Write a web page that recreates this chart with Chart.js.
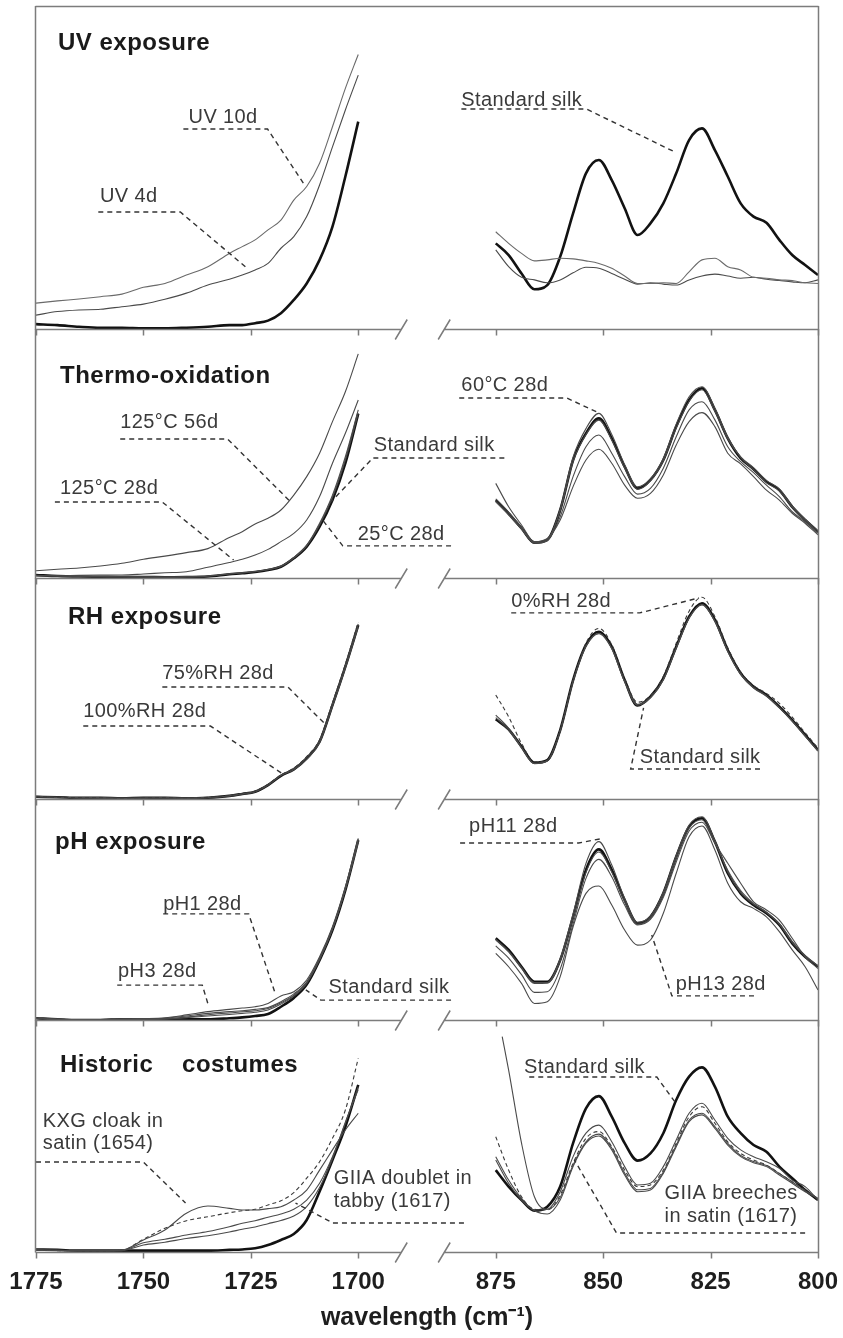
<!DOCTYPE html>
<html>
<head>
<meta charset="utf-8">
<script src="https://cdn.jsdelivr.net/npm/chart.js@4.4.1/dist/chart.umd.min.js"></script>
<style>
  html, body { margin: 0; padding: 0; background: #ffffff; }
  #wrap { position: relative; width: 843px; height: 1338px; }
  #wrap canvas { position: absolute; left: 0; top: 0; }
</style>
</head>
<body>
<div id="wrap">
  <canvas id="p0" width="843" height="1338"></canvas>
  <canvas id="p1" width="843" height="1338"></canvas>
  <canvas id="p2" width="843" height="1338"></canvas>
  <canvas id="p3" width="843" height="1338"></canvas>
  <canvas id="p4" width="843" height="1338"></canvas>
</div>
<script>
// ---- wavenumber grids (cm-1) ----
const wnL = [1775,1770,1765,1760,1755,1750,1745,1740,1735,1730,1727,1724,1721,1718,1715,1712,1709,1706,1703,1700];
const wnR = [875,872,869,866,863,860,857,854,851,848,845,842,839,836,833,830,827,824,821,818,815,812,809,806,803,800];
const wnRSteep = [873.5,872,869,866,863,860,857,854,851,848,845,842,839,836,833,830,827,824,821,818,815,812,809,806,803,800];

// ---- axis ticks ----
const tickWn = [1775,1750,1725,1700,875,850,825,800];
const tickLabels = ['1775','1750','1725','1700','875','850','825','800'];

// ---- UV exposure ----
const uvSilkL = [1.5,1.2,0.7,0.4,0.4,0.2,0.2,0.4,0.7,1.2,1.2,1.8,2.6,4.9,9.0,14.1,21.4,31.7,47.2,64.2];
const uv4dL   = [4.3,5.4,5.9,6.1,6.9,7.7,9.2,11.1,13.6,15.4,16.7,18.3,20.3,25.0,28.6,34.8,44.6,56.4,67.8,78.6];
const uv10dL  = [8.0,8.7,9.3,10.0,10.8,12.9,14.1,16.7,19.3,23.4,25.5,27.6,30.7,33.7,39.9,44.1,51.3,62.6,74.5,85.0];
const uvSilkR = [26.5,22.9,17.2,12.3,13.6,22.4,35.8,48.2,52.3,46.1,37.4,29.1,32.7,38.9,48.2,58.5,62.1,55.4,47.2,38.9,34.8,32.9,27.6,22.9,19.8,16.7];
const uv10dR  = [30.1,26.5,23.4,21.1,21.4,21.9,21.7,21.1,20.3,18.8,16.4,14.1,14.1,14.3,14.1,17.7,21.4,21.9,19.3,18.3,16.0,15.7,15.2,15.0,14.3,14.1];
const uv4dR   = [24.5,19.3,16.0,15.2,14.3,15.2,17.4,19.1,18.8,17.2,15.4,13.9,14.3,13.9,13.6,15.2,16.4,17.0,16.4,15.7,16.0,15.4,15.0,14.6,14.3,15.2];

// ---- Thermo-oxidation ----
const thSilkL  = [1.2,0.8,0.6,0.5,0.4,0.4,0.3,0.4,0.6,1.5,1.9,2.4,3.2,4.5,7.9,12.6,20.6,31.3,46.1,66.0];
const th25L    = [1.0,0.8,0.6,0.5,0.5,0.4,0.4,0.5,0.7,1.6,2.0,2.6,3.4,4.8,8.3,13.2,22.0,33.3,48.7,67.5];
const th60L    = [1.1,0.9,0.7,0.6,0.5,0.5,0.4,0.5,0.8,1.7,2.1,2.5,3.3,4.6,8.0,12.9,21.3,32.4,47.4,66.1];
const th125aL  = [0.8,0.8,1.1,1.2,1.2,1.6,2.1,2.5,4.3,6.2,7.5,9.2,11.5,14.6,17.9,23.3,32.7,46.1,58.1,71.5];
const th125bL  = [2.9,3.5,4.0,4.8,5.9,7.5,8.8,10.2,11.8,16.3,18.6,21.7,24.0,27.3,33.3,40.7,50.1,62.8,74.8,90.0];
const thSilkR  = [31.3,26.0,20.0,14.2,15.3,27.3,47.4,58.1,64.1,56.1,44.7,36.0,39.4,47.4,60.8,71.5,76.2,67.5,56.1,48.1,43.7,38.7,35.3,28.6,23.3,18.6];
const th60R    = [31.8,26.4,20.3,14.0,15.0,27.8,48.5,60.0,66.1,57.6,45.5,36.6,39.8,48.0,61.8,72.8,76.8,68.2,56.6,48.4,43.5,38.3,35.0,28.4,23.0,18.2];
const th25R    = [30.8,25.6,19.7,14.5,15.6,27.0,46.8,57.6,63.4,55.4,44.2,35.6,39.0,47.0,60.2,71.0,75.6,67.0,55.8,48.6,44.3,39.2,35.8,29.0,23.6,18.9];
const th125aR  = [30.6,25.3,19.6,14.2,15.3,24.6,40.7,52.7,57.4,50.1,40.7,33.7,36.0,44.1,56.7,67.5,70.8,63.5,52.7,46.7,42.3,37.3,32.7,26.6,22.6,17.9];
const th125bR  = [38.0,28.6,21.3,14.6,15.9,23.3,36.7,47.4,51.7,46.1,37.3,32.0,34.0,41.4,53.4,62.8,66.4,60.8,50.1,45.8,40.7,35.3,31.3,26.0,22.0,17.3];

// ---- RH exposure ----
const rhSilkL = [1.0,0.8,0.5,0.5,0.3,0.5,0.5,0.3,0.6,1.4,2.3,3.3,6.3,10.5,13.4,18.4,25.9,42.5,59.9,78.7];
const rh75L   = [1.2,0.9,0.6,0.6,0.4,0.5,0.6,0.4,0.7,1.5,2.4,3.5,6.5,10.8,13.8,18.9,26.5,43.2,60.5,79.2];
const rh100L  = [0.9,0.7,0.5,0.4,0.3,0.4,0.5,0.4,0.6,1.3,2.2,3.2,6.2,10.6,13.2,18.0,25.5,41.9,59.2,78.0];
const rh0L    = [1.1,0.8,0.6,0.5,0.4,0.6,0.6,0.5,0.8,1.6,2.5,3.6,6.6,10.9,14.0,19.2,26.8,43.5,61.0,80.0];
const rhSilkR = [36.1,31.5,23.7,16.4,17.6,31.2,53.8,69.7,75.7,68.9,53.8,42.3,46.3,54.6,68.9,82.5,88.6,81.0,67.4,56.9,50.8,47.1,41.8,35.7,29.0,22.2];
const rh0R    = [47.1,37.2,25.2,16.8,17.4,30.8,53.5,70.5,77.2,69.8,54.5,43.8,46.8,55.5,70.5,85.0,91.3,82.5,68.5,57.5,51.4,47.8,43.3,37.0,30.0,23.0];
const rh75R   = [38.0,32.0,23.5,16.2,17.4,31.0,53.5,69.2,75.0,68.3,53.3,42.8,46.0,54.2,68.5,82.0,88.0,80.6,67.0,56.6,50.5,46.8,41.5,35.4,28.7,21.9];
const rh100R  = [36.8,31.2,23.2,16.0,17.2,30.8,53.2,69.0,74.8,68.0,53.0,42.5,45.8,54.0,68.2,81.8,87.8,80.4,66.8,56.4,50.2,46.5,41.2,35.2,28.4,21.6];

// ---- pH exposure ----
const phSilkL = [0.8,0.3,0.0,0.0,0.3,0.3,0.3,0.3,0.3,0.8,1.2,1.8,2.7,6.0,10.0,16.0,27.1,40.7,58.8,81.4];
const ph1L    = [0.8,0.3,0.2,0.2,0.4,0.6,1.0,2.3,3.8,4.8,5.4,6.0,7.5,10.9,12.8,18.1,28.6,42.2,60.3,82.2];
const ph3L    = [0.8,0.3,0.2,0.2,0.4,0.5,0.8,1.8,3.0,3.8,4.2,4.8,5.7,8.3,11.8,17.2,27.8,41.5,59.5,81.8];
const ph11L   = [0.9,0.4,0.1,0.1,0.3,0.4,0.5,1.0,1.8,2.5,3.0,3.5,4.5,7.2,10.8,16.6,27.5,41.0,59.2,81.0];
const ph13L   = [0.8,0.3,0.1,0.1,0.3,0.4,0.6,1.3,2.4,3.2,3.7,4.2,5.2,7.8,11.2,17.0,27.3,41.2,59.0,80.6];
const phSilkR = [37.0,31.7,24.1,17.3,17.3,27.1,46.7,67.9,77.2,67.9,54.3,43.8,46.7,57.3,73.9,87.5,91.3,80.7,66.4,57.3,52.0,48.3,43.0,34.7,28.6,24.1];
const ph11R   = [36.5,31.2,23.8,17.0,17.0,27.8,48.0,70.9,80.7,70.1,55.0,44.2,47.0,57.8,74.5,88.2,92.0,81.2,66.8,57.6,52.3,48.6,43.3,35.0,28.9,24.4];
const ph1R    = [33.5,28.0,20.5,12.5,12.8,23.0,43.5,64.1,72.7,64.8,52.0,43.0,45.5,55.5,71.5,85.5,89.5,80.0,70.9,61.9,53.5,49.8,45.2,37.0,28.6,23.3];
const ph3R    = [36.2,30.8,23.3,16.5,16.6,26.6,46.0,66.8,76.0,67.0,53.6,43.4,46.2,56.8,73.2,86.8,90.6,80.2,67.8,58.6,52.8,48.8,43.6,35.6,29.2,24.6];
const ph13R   = [30.2,24.1,16.6,7.5,8.3,19.6,42.2,57.3,60.6,52.0,40.7,33.9,36.2,48.3,66.4,82.9,87.8,76.9,61.9,53.5,50.5,46.7,40.0,31.7,24.1,13.6];

// ---- Historic costumes ----
const hcSilkL     = [1.1,0.9,0.6,0.6,0.6,0.6,0.6,0.6,0.6,0.9,1.1,1.6,3.0,5.2,7.8,13.8,26.1,39.7,54.0,72.0];
const hcKxgL      = [0.8,0.7,0.6,0.6,0.8,5.2,9.5,16.7,19.8,18.8,18.1,18.1,18.7,19.5,22.4,26.7,35.3,44.0,52.6,59.8];
const hcDoubletL  = [0.7,0.6,0.5,0.5,0.8,5.5,10.2,13.5,15.2,16.9,17.8,18.4,20.3,22.1,25.6,31.8,38.9,49.0,61.2,83.5];
const hcBreechesL = [0.9,0.7,0.6,0.6,0.7,4.0,5.5,7.3,8.8,10.9,12.4,13.5,15.0,16.4,18.4,22.4,29.6,41.1,55.5,71.3];
const hcBreeches2L= [0.9,0.7,0.6,0.6,0.6,3.0,4.2,5.8,7.0,8.6,9.8,10.8,12.2,13.6,15.5,19.6,27.8,40.2,56.0,70.0];
const hcSilkR     = [35.3,28.2,22.4,17.8,19.5,28.2,46.9,61.9,67.2,58.3,46.9,39.4,42.5,51.2,65.5,75.6,79.6,71.3,58.3,51.2,46.1,43.2,36.8,31.8,26.7,22.4];
const hcKxgR      = [92.8,78.4,46.9,23.8,18.4,23.5,37.5,47.5,50.8,44.8,34.0,26.8,27.4,34.5,46.0,56.8,59.8,54.0,46.8,41.6,39.0,37.3,33.8,30.2,26.4,23.0];
const hcDoubletR  = [49.7,35.3,23.8,18.4,18.1,24.6,38.2,49.0,51.9,45.4,35.3,28.2,28.9,35.3,46.9,58.3,62.6,55.5,47.5,42.5,39.7,37.5,33.9,30.3,26.7,23.1];
const hcBreechesR = [41.1,31.0,23.1,18.1,18.4,26.0,41.1,51.2,54.7,47.5,36.8,28.9,29.6,36.8,48.3,59.8,64.1,56.9,49.0,44.0,41.1,38.9,36.1,31.0,28.2,22.4];
const hcBreeches2R= [39.7,29.6,22.4,17.8,16.4,22.4,36.8,46.9,50.0,44.0,33.2,26.0,26.7,33.9,45.4,56.2,59.1,53.3,46.1,41.1,38.5,36.8,33.2,29.6,26.0,23.1];

// ---- broken x axis: both spectral windows share one linear scale ----
const GAP = 32;           // scale units left blank between the two windows
const XMAX = 182;
const vx = w => (w > 1000 ? 1775 - w : 75 + GAP + 875 - w);
const breakWn = [1690, 887];  // where the axis line is cut

const SANS = '"Liberation Sans", Arial, Helvetica, sans-serif';

const STYLE = {
  silk:   { borderColor: '#121212', borderWidth: 2.6 },
  thin:   { borderColor: '#4a4a4a', borderWidth: 1.1 },
  grey:   { borderColor: '#6a6a6a', borderWidth: 1.1 },
  dashed: { borderColor: '#3a3a3a', borderWidth: 1.1, borderDash: [4, 3] }
};

function curve(wn, vals, style) {
  return Object.assign({
    data: wn.map((w, i) => ({ x: vx(w), y: vals[i] })),
    pointRadius: 0,
    fill: false,
    cubicInterpolationMode: 'monotone'
  }, STYLE[style]);
}

const panels = [
  {
    top: 6, bottom: 329, title: 'UV exposure', titleAt: [22, 44],
    curves: [
      [wnL, uv10dL, 'grey'], [wnL, uv4dL, 'thin'], [wnR, uv10dR, 'grey'], [wnR, uv4dR, 'thin'],
      [wnL, uvSilkL, 'silk'], [wnR, uvSilkR, 'silk']
    ],
    notes: [
      { text: ['UV 10d'], at: [1739.5, 63.8], rule: [1740.7, 1721.1, 61.9], to: [1712.5, 44.6], from: 'end' },
      { text: ['UV 4d'], at: [1760.1, 39.3], rule: [1760.5, 1741.4, 36.2], to: [1726.2, 19.2], from: 'end' },
      { text: ['Standard silk'], at: [883.0, 69.0], rule: [883.0, 853.9, 68.1], to: [833.3, 54.8], from: 'end' }
    ]
  },
  {
    top: 329, bottom: 578, title: 'Thermo-oxidation', titleAt: [24, 54],
    curves: [
      [wnL, th125bL, 'thin'], [wnL, th125aL, 'thin'], [wnL, th25L, 'thin'], [wnL, th60L, 'thin'],
      [wnR, th125bR, 'thin'], [wnR, th125aR, 'thin'], [wnR, th25R, 'thin'], [wnR, th60R, 'thin'],
      [wnL, thSilkL, 'silk'], [wnR, thSilkR, 'silk']
    ],
    notes: [
      { text: ['125°C 56d'], at: [1755.4, 60.2], rule: [1755.4, 1730.4, 55.8], to: [1715.7, 30.5], from: 'end' },
      { text: ['125°C 28d'], at: [1769.4, 33.7], rule: [1770.6, 1745.6, 30.5], to: [1729.0, 7.2], from: 'end' },
      { text: ['Standard silk'], at: [1696.4, 51.0], rule: [1696.6, 873.0, 48.2], to: [1706.4, 30.5], from: 'start' },
      { text: ['25°C 28d'], at: [1700.1, 15.3], rule: [1703.6, 1678.4, 12.9], to: [1708.3, 23.3], from: 'start' },
      { text: ['60°C 28d'], at: [883.0, 75.1], rule: [883.5, 858.5, 72.3], to: [851.5, 66.7], from: 'end' }
    ]
  },
  {
    top: 578, bottom: 799, title: 'RH exposure', titleAt: [32, 46],
    curves: [
      [wnL, rh0L, 'dashed'], [wnL, rh75L, 'thin'], [wnL, rh100L, 'thin'],
      [wnR, rh0R, 'dashed'], [wnR, rh75R, 'thin'], [wnR, rh100R, 'thin'],
      [wnL, rhSilkL, 'silk'], [wnR, rhSilkR, 'silk']
    ],
    notes: [
      { text: ['75%RH 28d'], at: [1745.6, 54.3], rule: [1745.6, 1716.4, 50.7], to: [1707.6, 33.7], from: 'end' },
      { text: ['100%RH 28d'], at: [1764.0, 37.1], rule: [1764.0, 1734.4, 33.0], to: [1717.3, 11.0], from: 'end' },
      { text: ['0%RH 28d'], at: [871.4, 86.9], rule: [871.4, 841.5, 84.2], to: [827.7, 91.0], from: 'end' },
      { text: ['Standard silk'], at: [841.5, 16.3], rule: [843.6, 813.5, 13.6], to: [840.6, 41.2], from: 'start' }
    ]
  },
  {
    top: 799, bottom: 1020, title: 'pH exposure', titleAt: [19, 50],
    curves: [
      [wnL, ph1L, 'thin'], [wnL, ph3L, 'thin'], [wnL, ph11L, 'thin'], [wnL, ph13L, 'thin'],
      [wnR, ph1R, 'thin'], [wnR, ph3R, 'thin'], [wnR, ph11R, 'thin'], [wnR, ph13R, 'thin'],
      [wnL, phSilkL, 'silk'], [wnR, phSilkR, 'silk']
    ],
    notes: [
      { text: ['pH1 28d'], at: [1745.4, 49.8], rule: [1745.4, 1725.5, 48.0], to: [1719.2, 11.3], from: 'end' },
      { text: ['pH3 28d'], at: [1755.9, 19.5], rule: [1756.1, 1736.3, 15.8], to: [1734.9, 6.8], from: 'end' },
      { text: ['Standard silk'], at: [1706.9, 12.2], rule: [1708.7, 1678.4, 9.0], to: [1712.2, 13.6], from: 'start' },
      { text: ['pH11 28d'], at: [881.2, 85.1], rule: [883.3, 855.7, 80.1], to: [850.8, 81.9], from: 'end' },
      { text: ['pH13 28d'], at: [833.1, 13.6], rule: [834.0, 814.9, 10.9], to: [838.7, 38.5], from: 'start' }
    ]
  },
  {
    top: 1020, bottom: 1252, title: 'Historic    costumes', titleAt: [24, 52],
    curves: [
      [wnL, hcKxgL, 'thin'], [wnL, hcDoubletL, 'dashed'], [wnL, hcBreechesL, 'thin'], [wnL, hcBreeches2L, 'thin'],
      [wnRSteep, hcKxgR, 'thin'], [wnR, hcDoubletR, 'dashed'], [wnR, hcBreechesR, 'thin'], [wnR, hcBreeches2R, 'thin'],
      [wnL, hcSilkL, 'silk'], [wnR, hcSilkR, 'silk']
    ],
    notes: [
      { text: ['KXG cloak in', 'satin (1654)'], at: [1773.4, 53.9], rule: [1775.0, 1750.0, 38.8], to: [1740.2, 21.1], from: 'end' },
      { text: ['GIIA doublet in', 'tabby (1617)'], at: [1705.7, 29.3], rule: [1705.9, 1675.4, 12.5], to: [1714.6, 21.1], from: 'start' },
      { text: ['Standard silk'], at: [868.4, 77.2], rule: [867.2, 837.5, 75.4], to: [833.3, 64.7], from: 'end' },
      { text: ['GIIA breeches', 'in satin (1617)'], at: [835.7, 22.8], rule: [846.9, 803.0, 8.2], to: [856.7, 39.7], from: 'start' }
    ]
  }
];

// panel frame, broken axis, headings and leader-line labels
const framePlugin = {
  id: 'frame',
  afterDatasetsDraw(chart, args, o) {
    const { ctx, chartArea: a, scales: { x, y } } = chart;
    const px = w => x.getPixelForValue(vx(w));
    const py = v => y.getPixelForValue(v);
    ctx.save();
    ctx.textBaseline = 'alphabetic';
    ctx.textAlign = 'left';
    ctx.font = 'bold 24px ' + SANS;
    ctx.letterSpacing = '0.5px';
    ctx.fillStyle = '#1a1a1a';
    ctx.fillText(o.title, a.left + o.titleAt[0], a.top + o.titleAt[1]);

    ctx.font = '20px ' + SANS;
    ctx.letterSpacing = '0.4px';
    ctx.fillStyle = '#3a3a3a';
    ctx.strokeStyle = '#333333';
    ctx.lineWidth = 1.4;
    o.notes.forEach(n => {
      n.text.forEach((t, i) => ctx.fillText(t, px(n.at[0]), py(n.at[1]) + i * 22.5));
      const r0 = [px(n.rule[0]), py(n.rule[2])];
      const r1 = [px(n.rule[1]), py(n.rule[2])];
      const tg = [px(n.to[0]), py(n.to[1])];
      const pts = n.from === 'end' ? [r0, r1, tg] : [r1, r0, tg];
      ctx.setLineDash([5, 4]);
      ctx.beginPath();
      ctx.moveTo(pts[0][0], pts[0][1]);
      ctx.lineTo(pts[1][0], pts[1][1]);
      ctx.lineTo(pts[2][0], pts[2][1]);
      ctx.stroke();
    });
    ctx.restore();
  },
  afterDraw(chart, args, o) {
    const { ctx, chartArea: a, scales: { x } } = chart;
    const px = w => x.getPixelForValue(vx(w));
    const yb = Math.round(a.bottom) + 0.5;
    const xl = Math.round(a.left) - 0.5;
    const xr = Math.round(a.right) + 0.5;
    ctx.save();
    ctx.setLineDash([]);
    ctx.strokeStyle = '#7c7c7c';
    ctx.lineWidth = 1.5;
    ctx.beginPath();
    ctx.moveTo(xl, a.top); ctx.lineTo(xl, yb);
    ctx.moveTo(xr, a.top); ctx.lineTo(xr, yb);
    if (o.first) { ctx.moveTo(xl, Math.round(a.top) + 0.5); ctx.lineTo(xr, Math.round(a.top) + 0.5); }
    const bl = px(breakWn[0]), br = px(breakWn[1]);
    ctx.moveTo(xl, yb); ctx.lineTo(bl, yb);
    ctx.moveTo(br, yb); ctx.lineTo(xr, yb);
    tickWn.forEach(w => { const t = Math.round(px(w)) + 0.5; ctx.moveTo(t, yb); ctx.lineTo(t, yb + 6); });
    [bl, br].forEach(c => { ctx.moveTo(c - 6, yb + 10); ctx.lineTo(c + 6, yb - 10); });
    ctx.stroke();
    ctx.restore();
  }
};

panels.forEach((p, i) => {
  const last = i === panels.length - 1;
  const xScale = {
    type: 'linear', min: 0, max: XMAX, display: last, position: 'bottom',
    grid: { display: false, drawTicks: false },
    border: { display: false },
    afterBuildTicks: s => { s.ticks = tickWn.map(w => ({ value: vx(w) })); },
    ticks: {
      autoSkip: false, maxRotation: 0, minRotation: 0, padding: 16, color: '#1e1e1e',
      font: { family: SANS, size: 24, weight: 'bold' },
      callback: (v, idx) => tickLabels[idx]
    },
    title: {
      display: true, text: 'wavelength (cm⁻¹)', color: '#1e1e1e',
      font: { family: SANS, size: 25, weight: 'bold' },
      padding: { top: 0, bottom: 5 }
    }
  };
  if (last) {
    // keep the plot width fixed: the axis box takes the space below the panel only
    xScale.afterFit = s => { s.height = 1338 - p.bottom; s.paddingLeft = 0; s.paddingRight = 0; };
  }
  new Chart(document.getElementById('p' + i), {
    type: 'line',
    data: { datasets: p.curves.map(c => curve(c[0], c[1], c[2])) },
    options: {
      responsive: false,
      animation: false,
      events: [],
      layout: { padding: { left: 36, right: 25, top: p.top, bottom: last ? 0 : 1338 - p.bottom } },
      plugins: {
        legend: { display: false },
        tooltip: { enabled: false },
        frame: { title: p.title, titleAt: p.titleAt, notes: p.notes, first: i === 0 }
      },
      scales: {
        x: xScale,
        y: { type: 'linear', min: 0, max: 100, display: false }
      }
    },
    plugins: [framePlugin]
  });
});
</script>
</body>
</html>
